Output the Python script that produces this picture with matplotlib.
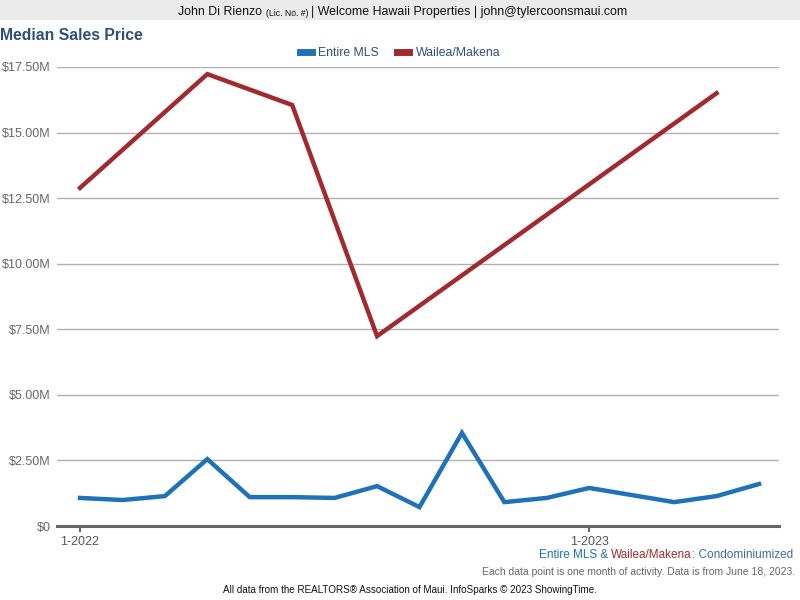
import numpy as np
import matplotlib
matplotlib.use("Agg")
import matplotlib.pyplot as plt
from matplotlib.patches import Rectangle

plt.rcParams['font.family'] = ['Liberation Sans', 'DejaVu Sans']

months = ["1-2022", "2-2022", "3-2022", "4-2022", "5-2022", "6-2022", "7-2022", "8-2022",
          "9-2022", "10-2022", "11-2022", "12-2022", "1-2023", "2-2023", "3-2023", "4-2023", "5-2023"]
entire_mls = [1.07, 0.99, 1.14, 2.55, 1.10, 1.10, 1.07, 1.52, 0.72, 3.55, 0.91, 1.07, 1.45, 1.18, 0.91, 1.14, 1.60]
wailea = [12.89, None, None, 17.23, None, 16.05, None, 7.24, None, None, None, None, None, None, None, 16.50, None]
tick_labels = ["1-2022", "1-2023"]
yticks = [0, 2.5, 5, 7.5, 10, 12.5, 15, 17.5]
ytick_labels = ["$0", "$2.50M", "$5.00M", "$7.50M", "$10.00M", "$12.50M", "$15.00M", "$17.50M"]

BLUE = '#1f72b8'
RED = '#a12a2f'
NAVY = '#2d4f7c'

fig = plt.figure(figsize=(8, 6), dpi=100)
fig.patch.set_facecolor('white')

# header band
fig.patches.append(Rectangle((0, 1 - 20/600), 1, 20/600, transform=fig.transFigure,
                             facecolor='#ebebeb', edgecolor='none', zorder=-5))

ax = fig.add_axes([57/800, 1 - 526/600, (779 - 57)/800, (526 - 67)/600])

t1 = fig.text(178/800, 1 - 15/600, "John Di Rienzo", fontsize=8.9, va='baseline', ha='left', color='#111111')
a2 = ax.annotate("(Lic. No. #)", xy=(1, 0), xycoords=t1, xytext=(3, 0), textcoords='offset points',
                 fontsize=6.2, va='bottom', ha='left', color='#111111', annotation_clip=False)
a3 = ax.annotate("| Welcome Hawaii Properties | john@tylercoonsmaui.com", xy=(1, 0), xycoords=a2,
                 xytext=(2, 0), textcoords='offset points',
                 fontsize=8.9, va='bottom', ha='left', color='#111111', annotation_clip=False)

fig.text(0/800, 1 - 35/600, "Median Sales Price", fontsize=11.3, fontweight='bold',
         color=NAVY, va='center', ha='left')

x = np.arange(len(months))
ax.plot(x, entire_mls, color=BLUE, lw=3.2, solid_joinstyle='miter', label="Entire MLS", zorder=3)
w = np.array([np.nan if v is None else v for v in wailea], dtype=float)
mask = ~np.isnan(w)
ax.plot(x[mask], w[mask], color=RED, lw=3.2, solid_joinstyle='miter', label="Wailea/Makena", zorder=3)

ax.set_xlim(-23/42.4, 16 + 20/42.4)
ax.set_ylim(0, 17.5)
ax.set_yticks(yticks)
ax.set_yticklabels(ytick_labels)
ax.set_xticks([months.index(t) for t in tick_labels])
ax.set_xticklabels(tick_labels)
for s in ['top', 'right', 'left']:
    ax.spines[s].set_visible(False)
ax.spines['bottom'].set_color('#666666')
ax.spines['bottom'].set_linewidth(2.2)
ax.grid(axis='y', color='#b0b0b0', lw=1)
ax.set_axisbelow(True)
ax.tick_params(axis='y', length=0, pad=4.5, labelsize=9, labelcolor='#666666')
ax.tick_params(axis='x', length=4, width=1.5, color='#666666', pad=3, labelsize=9, labelcolor='#555555')

leg = ax.legend(loc='center', bbox_to_anchor=(0.5, (600 - 53)/600), bbox_transform=fig.transFigure,
                ncol=2, frameon=False, fontsize=8.8, handlelength=1.0, handletextpad=0.5,
                columnspacing=1.5)
for line in leg.get_lines():
    line.set_linewidth(5)
for txt in leg.get_texts():
    txt.set_color(NAVY)

# footer
f1 = fig.text(539/800, 1 - 558/600, "Entire MLS &", fontsize=8.5, color=BLUE, ha='left', va='baseline')
f2 = ax.annotate("Wailea/Makena", xy=(1, 0), xycoords=f1, xytext=(2.3, 0), textcoords='offset points',
                 fontsize=8.5, color=RED, ha='left', va='bottom', annotation_clip=False)
f3 = ax.annotate(": Condominiumized", xy=(1, 0), xycoords=f2, xytext=(0, 0), textcoords='offset points',
                 fontsize=8.5, color='#3d6a9e', ha='left', va='bottom', annotation_clip=False)
fig.text(795/800, 1 - 572/600, "Each data point is one month of activity. Data is from June 18, 2023.",
         fontsize=7.45, color='#666666', ha='right', va='center')
fig.text(410/800, 1 - 590/600, "All data from the REALTORS® Association of Maui. InfoSparks © 2023 ShowingTime.",
         fontsize=7.1, color='#111111', ha='center', va='center')

fig.savefig("out.png", dpi=100)
